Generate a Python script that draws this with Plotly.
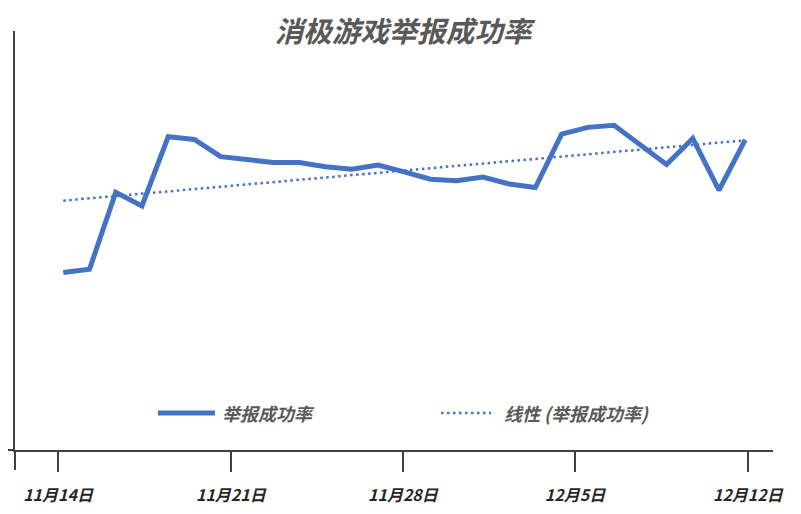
import numpy as np
import plotly.graph_objects as go

# ---- data ----
point_index = list(range(27))
success_rate = [33.9, 34.5, 49.2, 46.6, 59.8, 59.3, 56.0, 55.4, 54.9, 54.9,
                54.1, 53.6, 54.4, 53.1, 51.7, 51.4, 52.1, 50.8, 50.1, 60.3,
                61.6, 62.0, 58.3, 54.5, 59.5, 49.6, 59.2]
tick_labels = ["11月14日", "11月21日", "11月28日", "12月5日", "12月12日"]
tick_positions = [-0.2, 6.39, 12.95, 19.51, 26.1]
series_name = "举报成功率"
trend_name = "线性 (举报成功率)"
title_text = "消极游戏举报成功率"

# linear trendline from the data
slope, intercept = np.polyfit(point_index, success_rate, 1)
trend = [slope * i + intercept for i in point_index]

BLUE = "#4472C4"
AX = "#404040"
TXT = "#595959"
FONT = "Noto Sans CJK SC"

W, H = 793, 506   # page has an 8px body margin

fig = go.Figure()
fig.add_trace(go.Scatter(x=point_index, y=trend, mode="lines", name=trend_name,
                         line=dict(color=BLUE, width=2.5, dash="2.5px,3.5px"),
                         hoverinfo="skip"))
fig.add_trace(go.Scatter(x=point_index, y=success_rate, mode="lines", name=series_name,
                         line=dict(color=BLUE, width=5)))

fig.update_layout(
    width=W, height=H,
    margin=dict(l=7, r=28, t=23, b=64),
    paper_bgcolor="white", plot_bgcolor="white",
    showlegend=False,
    title=dict(text=title_text, x=(403 - 8) / W, xref="container", xanchor="center",
               y=1 - (32 - 8) / H, yref="container", yanchor="middle",
               font=dict(family=FONT, size=28.5, color=TXT, weight="bold", style="italic")),
    xaxis=dict(range=[-1.84, 27.06], showgrid=False, zeroline=False,
               showline=True, linecolor=AX, linewidth=2,
               tickmode="array", tickvals=tick_positions, ticktext=tick_labels,
               ticks="outside", ticklen=20, tickwidth=2, tickcolor=AX,
               ticklabelstandoff=10,
               tickfont=dict(family=FONT, size=16, color="#262626", weight="bold", style="italic")),
    yaxis=dict(range=[0, 80], showgrid=False, zeroline=False,
               showline=True, linecolor=AX, linewidth=2,
               showticklabels=False, ticks=""),
)

# axis extensions (x-axis line left of y-axis, y-axis tick below)
fig.add_shape(type="line", xref="paper", yref="paper", x0=-14 / 758, x1=0, y0=0, y1=0,
              line=dict(color=AX, width=2))
fig.add_shape(type="line", xref="paper", yref="paper", x0=0, x1=0, y0=0, y1=-20 / 419,
              line=dict(color=AX, width=2))

# manual legend
fig.add_shape(type="line", xref="paper", yref="paper", x0=143 / 758, x1=200 / 758,
              y0=37 / 419, y1=37 / 419, line=dict(color=BLUE, width=5))
fig.add_shape(type="line", xref="paper", yref="paper", x0=426 / 758, x1=476 / 758,
              y0=37 / 419, y1=37 / 419, line=dict(color=BLUE, width=2.5, dash="2.5px,3.5px"))
fig.add_annotation(text=series_name, xref="paper", yref="paper", x=205 / 758, y=37 / 419,
                   xanchor="left", yanchor="middle", showarrow=False,
                   font=dict(family=FONT, size=18, color=TXT, weight="bold", style="italic"))
fig.add_annotation(text=trend_name, xref="paper", yref="paper", x=487 / 758, y=37 / 419,
                   xanchor="left", yanchor="middle", showarrow=False,
                   font=dict(family=FONT, size=18, color=TXT, weight="bold", style="italic"))

fig.write_html("out.html")
